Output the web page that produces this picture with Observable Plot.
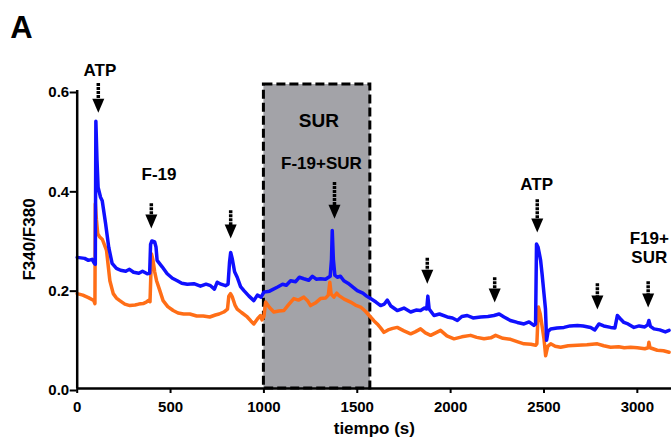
<!DOCTYPE html>
<html><head><meta charset="utf-8">
<script src="https://cdn.jsdelivr.net/npm/d3@7"></script>
<script src="https://cdn.jsdelivr.net/npm/@observablehq/plot@0.6"></script>
<style>body{margin:0;background:#fff;}</style>
</head><body><div id="chart"></div>
<script>
// Series: F340/F380 ratio vs time (s)
const blueT = [0,40,60,80,92,97,100,106,112,125,134,152,169,187,210,232,260,280,302,330,350,375,388,393,400,415,422,428,455,482,510,536,560,590,625,660,690,714,735,750,770,794,808,816,822,830,843,857,875,893,920,946,965,985,1000,1030,1071,1100,1120,1143,1170,1190,1214,1240,1260,1280,1303,1330,1355,1362,1366,1372,1380,1393,1410,1428,1450,1470,1500,1530,1550,1571,1600,1625,1645,1661,1680,1714,1750,1786,1815,1839,1860,1872,1878,1885,1911,1940,1982,2010,2036,2060,2089,2120,2161,2200,2232,2260,2286,2320,2357,2393,2420,2446,2455,2460,2468,2476,2482,2490,2500,2508,2514,2522,2536,2570,2607,2640,2679,2710,2750,2772,2794,2820,2857,2880,2893,2910,2928,2950,2982,3010,3040,3055,3062,3070,3089,3120,3150,3170];
const blueV = [0.264,0.262,0.258,0.260,0.252,0.250,0.538,0.46,0.405,0.385,0.378,0.332,0.284,0.252,0.242,0.238,0.236,0.240,0.234,0.232,0.236,0.231,0.232,0.290,0.297,0.295,0.285,0.258,0.245,0.231,0.222,0.217,0.212,0.210,0.211,0.206,0.210,0.207,0.200,0.214,0.210,0.207,0.210,0.255,0.274,0.262,0.235,0.224,0.205,0.197,0.186,0.177,0.188,0.184,0.194,0.196,0.204,0.210,0.208,0.217,0.215,0.224,0.221,0.218,0.226,0.220,0.221,0.220,0.226,0.260,0.318,0.260,0.228,0.224,0.226,0.217,0.212,0.206,0.197,0.192,0.186,0.181,0.174,0.167,0.170,0.178,0.166,0.157,0.162,0.154,0.158,0.157,0.162,0.160,0.186,0.160,0.147,0.150,0.144,0.142,0.137,0.145,0.147,0.142,0.144,0.145,0.147,0.150,0.144,0.137,0.133,0.130,0.134,0.127,0.130,0.291,0.285,0.270,0.258,0.230,0.191,0.160,0.097,0.115,0.120,0.122,0.123,0.126,0.127,0.126,0.123,0.118,0.130,0.126,0.123,0.122,0.147,0.140,0.133,0.130,0.123,0.126,0.124,0.128,0.137,0.125,0.120,0.118,0.114,0.117];

const orangeT = [0,30,60,89,95,97,103,110,121,135,157,175,193,210,228,255,282,310,330,353,370,380,390,398,405,415,425,440,460,485,514,540,570,603,640,675,710,740,760,785,805,812,821,830,845,857,880,911,930,946,965,982,990,1000,1009,1030,1053,1080,1107,1130,1160,1185,1214,1235,1250,1275,1303,1330,1345,1353,1360,1375,1390,1402,1430,1464,1490,1518,1545,1571,1590,1607,1625,1643,1665,1690,1714,1750,1786,1810,1839,1865,1893,1920,1946,1980,2018,2060,2107,2140,2179,2215,2241,2280,2321,2360,2393,2430,2455,2462,2470,2480,2491,2500,2509,2520,2536,2560,2589,2630,2679,2730,2786,2820,2857,2900,2930,2964,3000,3040,3058,3062,3068,3107,3140,3170];
const orangeV = [0.191,0.188,0.183,0.177,0.171,0.372,0.340,0.312,0.305,0.300,0.278,0.217,0.191,0.182,0.177,0.170,0.167,0.168,0.170,0.171,0.174,0.177,0.175,0.271,0.260,0.235,0.217,0.200,0.177,0.165,0.157,0.152,0.150,0.150,0.146,0.146,0.144,0.148,0.150,0.154,0.160,0.186,0.191,0.185,0.168,0.160,0.153,0.144,0.136,0.130,0.140,0.147,0.138,0.145,0.174,0.163,0.154,0.156,0.157,0.168,0.181,0.178,0.184,0.176,0.167,0.172,0.181,0.182,0.188,0.214,0.190,0.184,0.192,0.187,0.180,0.174,0.168,0.164,0.155,0.144,0.136,0.130,0.122,0.113,0.118,0.121,0.123,0.116,0.110,0.114,0.120,0.112,0.107,0.112,0.117,0.106,0.100,0.104,0.107,0.103,0.100,0.102,0.107,0.101,0.099,0.094,0.090,0.089,0.087,0.090,0.164,0.150,0.123,0.100,0.066,0.085,0.090,0.085,0.083,0.086,0.087,0.088,0.090,0.086,0.083,0.084,0.082,0.083,0.082,0.080,0.082,0.093,0.082,0.077,0.076,0.073];

// Shaded sulfonylurea (SUR) period
const surStart = 1000, surEnd = 1570, surTop = 0.612;

// Stimulus arrows: time, top of shaft, tip
const arrowX   = [113, 397, 822, 1378, 1875, 2236, 2464, 2786, 3058];
const arrowTop = [0.614, 0.372, 0.358, 0.415, 0.262, 0.223, 0.380, 0.211, 0.215];
const arrowTip = [0.555, 0.322, 0.302, 0.342, 0.211, 0.173, 0.314, 0.159, 0.163];

// Annotation labels
const labelText = ["ATP", "F-19", "F-19+SUR", "ATP", "F19+", "SUR"];
const labelX    = [122, 438, 1308, 2461, 3064, 3064];
const labelY    = [0.630, 0.419, 0.442, 0.400, 0.291, 0.252];
const boxLabel = "SUR", boxLabelX = 1294, boxLabelY = 0.526;

const xTicks = [0, 500, 1000, 1500, 2000, 2500, 3000];
const yTicks = [0, 0.2, 0.4, 0.6];

const blue = blueT.map((t, i) => ({t, v: blueV[i]}));
const orange = orangeT.map((t, i) => ({t, v: orangeV[i]}));
const arrows = arrowX.map((x, i) => ({x, top: arrowTop[i], tip: arrowTip[i]}));
const labels = labelText.map((s, i) => ({s, x: labelX[i], y: labelY[i]}));

const arrowHead = {draw(ctx) { ctx.moveTo(0, 0); ctx.lineTo(-6, -14); ctx.lineTo(6, -14); ctx.closePath(); }};

const chart = Plot.plot({
  width: 671, height: 439,
  marginLeft: 76.7, marginRight: 0, marginTop: 90, marginBottom: 51,
  x: {domain: [0, 3183]},
  y: {domain: [0, 0.6]},
  style: {fontFamily: "'Liberation Sans', Arial, sans-serif", fontWeight: "bold", fontSize: "15px", color: "black", background: "white"},
  marks: [
    Plot.rect([{x1: surStart, x2: surEnd, y1: 0, y2: surTop}], {x1: "x1", x2: "x2", y1: "y1", y2: "y2", fill: "#a3a3a8", stroke: "black", strokeWidth: 3, strokeDasharray: "9,4"}),
    Plot.line(orange, {x: "t", y: "v", stroke: "#ff6e17", strokeWidth: 3.5}),
    Plot.line(blue, {x: "t", y: "v", stroke: "#1010ff", strokeWidth: 3.5}),
    Plot.ruleX(arrows, {x: "x", y1: "top", y2: "tip", stroke: "black", strokeWidth: 3.5, strokeDasharray: "3,1", insetBottom: 9}),
    Plot.dot(arrows, {x: "x", y: "tip", symbol: arrowHead, fill: "black", stroke: "none", r: 5}),
    Plot.text(labels, {x: "x", y: "y", text: "s", fontSize: 17, lineAnchor: "bottom"}),
    Plot.text([boxLabel], {x: boxLabelX, y: boxLabelY, fontSize: 19, lineAnchor: "bottom"}),
    Plot.axisX({ticks: xTicks, tickFormat: d3.format("d"), tickSize: 5, strokeWidth: 2, tickPadding: 8, fontSize: 15, label: null}),
    Plot.axisY({ticks: yTicks, tickFormat: d3.format(".1f"), tickSize: 7, strokeWidth: 2, tickPadding: 1, dy: 2, fontSize: 15, label: null}),
    Plot.ruleY([0], {strokeWidth: 2.5}),
    Plot.ruleX([0], {y1: 0, y2: 0.6, strokeWidth: 2.5}),
    Plot.text(["tiempo (s)"], {frameAnchor: "bottom", dy: 45, lineAnchor: "bottom", fontSize: 17}),
    Plot.text(["F340/F380"], {frameAnchor: "left", dx: -42, rotate: -90, textAnchor: "middle", lineAnchor: "bottom", fontSize: 17}),
    Plot.text(["A"], {frameAnchor: "top-left", dx: -67, dy: -53, textAnchor: "start", lineAnchor: "bottom", fontSize: 31})
  ]
});
document.getElementById("chart").append(chart);
</script>
</body></html>
